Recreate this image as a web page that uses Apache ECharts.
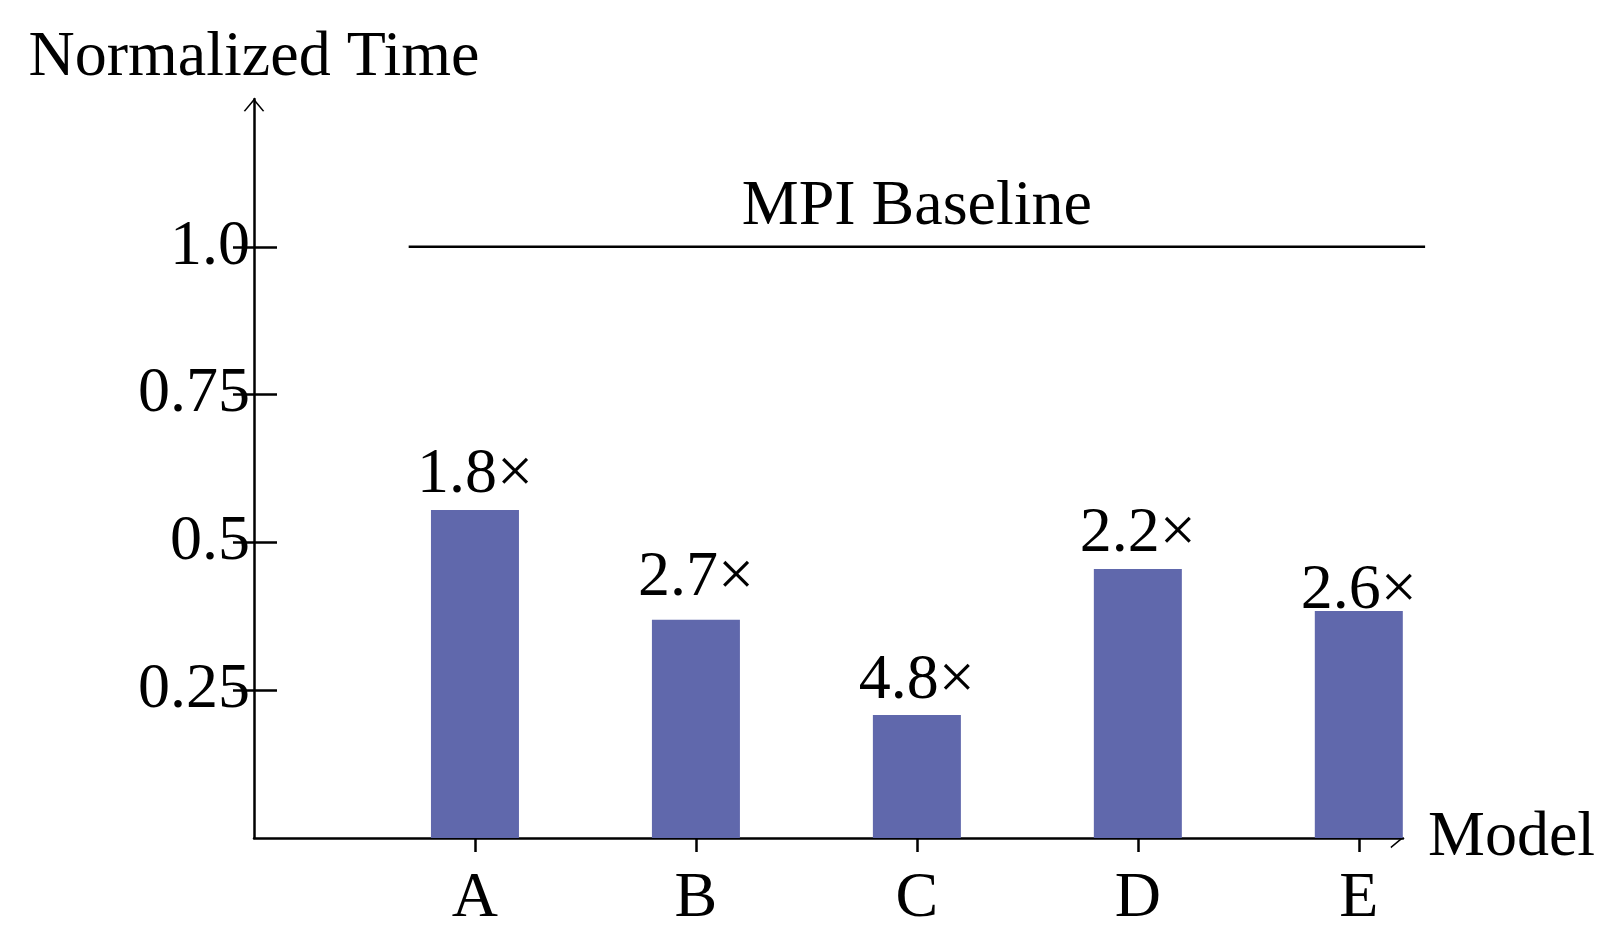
<!DOCTYPE html>
<html>
<head>
<meta charset="utf-8">
<script src="https://cdn.jsdelivr.net/npm/echarts@6/dist/echarts.min.js"></script>
<style>
html,body{margin:0;padding:0;background:#fff;}
#chart{width:1610px;height:943px;}
</style>
</head>
<body>
<div id="chart"></div>
<script>
// ---- data ----
const categories = ['A', 'B', 'C', 'D', 'E'];
const categoryPositions = [1, 2, 3, 4, 5];
const normalizedTime = [0.555, 0.369, 0.208, 0.455, 0.384];
const speedupLabels = ['1.8×', '2.7×', '4.8×', '2.2×', '2.6×'];
const labelDistances = [3, 10, 2, 3, -12];
const yTickValues = [0.25, 0.5, 0.75, 1.0];
const yTickLabels = ['0.25', '0.5', '0.75', '1.0'];
const baselineValue = 1.0;
const baselineSpan = [0.7, 5.3];
const baselineText = 'MPI Baseline';
const baselineCenter = 3;

const FONT = "'Liberation Serif', 'DejaVu Serif', serif";
const FS = 64;
const chevron = 'path://M0,12 L10,0 L20,12 L18.6,12.6 L10,2.4 L1.4,12.6 Z';

const chart = echarts.init(document.getElementById('chart'), null, {renderer: 'canvas'});

const barData = categoryPositions.map((x, i) => ({
  value: [x, normalizedTime[i]],
  label: {distance: labelDistances[i], formatter: speedupLabels[i]}
}));

const option = {
  animation: false,
  backgroundColor: '#ffffff',
  textStyle: {fontFamily: FONT},
  grid: {left: 254, right: 207, top: 99, bottom: 105, containLabel: false},
  xAxis: {
    type: 'value',
    min: 0,
    max: 5.2,
    name: 'Model',
    nameLocation: 'end',
    nameGap: 25,
    nameTextStyle: {fontFamily: FONT, fontSize: FS, color: '#000', verticalAlign: 'middle'},
    axisLine: {show: true, lineStyle: {color: '#000', width: 2.5}, symbol: ['none', chevron], symbolSize: [22, 13], symbolOffset: [0, -6]},
    axisTick: {show: true, inside: false, length: 14, lineStyle: {color: '#000', width: 2.5}, customValues: categoryPositions},
    axisLabel: {
      show: true, margin: 29, fontFamily: FONT, fontSize: FS, color: '#000',
      customValues: categoryPositions,
      formatter: v => categories[categoryPositions.indexOf(v)] || ''
    },
    splitLine: {show: false}
  },
  yAxis: [
    {
      type: 'value',
      min: 0,
      max: 1.25,
      name: 'Normalized Time',
      nameLocation: 'end',
      nameGap: 9,
      nameTextStyle: {fontFamily: FONT, fontSize: FS, color: '#000', align: 'center'},
      axisLine: {show: true, lineStyle: {color: '#000', width: 2.5}, symbol: ['none', chevron], symbolSize: [22, 13], symbolOffset: [0, -6]},
      axisTick: {show: true, inside: false, length: 21, lineStyle: {color: '#000', width: 2.5}, customValues: yTickValues},
      axisLabel: {
        show: true, margin: 4, fontFamily: FONT, fontSize: FS, color: '#000',
        customValues: yTickValues,
        formatter: v => {
          const i = yTickValues.findIndex(t => Math.abs(t - v) < 1e-9);
          return i >= 0 ? yTickLabels[i] : '';
        }
      },
      splitLine: {show: false}
    },
    {
      type: 'value',
      min: 0,
      max: 1.25,
      position: 'left',
      offset: 0,
      axisLine: {show: false},
      axisTick: {show: true, inside: true, length: 23, lineStyle: {color: '#000', width: 2.5}, customValues: yTickValues},
      axisLabel: {show: false},
      splitLine: {show: false}
    }
  ],
  series: [
    {
      type: 'bar',
      data: barData,
      barWidth: 88,
      itemStyle: {color: '#6068ac'},
      label: {
        show: true, position: 'top', fontFamily: FONT, fontSize: FS, color: '#000'
      },
      emphasis: {disabled: true},
      z: 3
    },
    {
      type: 'custom',
      data: [[baselineSpan[0], baselineValue, baselineSpan[1]]],
      encode: {x: 0, y: 1},
      clip: false,
      silent: true,
      z: 4,
      renderItem: (params, api) => {
        const p0 = api.coord([api.value(0), api.value(1)]);
        const p1 = api.coord([api.value(2), api.value(1)]);
        return {
          type: 'line',
          shape: {x1: p0[0], y1: p0[1], x2: p1[0], y2: p1[1]},
          style: {stroke: '#000', lineWidth: 2.5}
        };
      }
    },
    {
      type: 'scatter',
      data: [[baselineCenter, baselineValue]],
      symbolSize: 0,
      clip: false,
      itemStyle: {opacity: 1},
      emphasis: {disabled: true},
      label: {
        show: true, position: 'top', distance: 8, formatter: baselineText,
        fontFamily: FONT, fontSize: FS, color: '#000', opacity: 1
      },
      z: 5,
      silent: true
    }
  ]
};
chart.setOption(option);
</script>
</body>
</html>
